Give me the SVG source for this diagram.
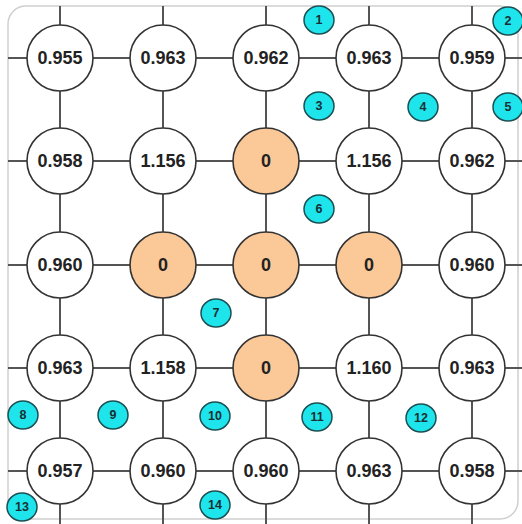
<svg xmlns="http://www.w3.org/2000/svg" width="522" height="524" viewBox="0 0 522 524">
  <defs>
    <style>
      .frame { fill: #ffffff; stroke: #cfcfcf; stroke-width: 1.5; }
      .edge { stroke: #555555; stroke-width: 2; fill: none; }
      .node circle { fill: #ffffff; stroke: #333333; stroke-width: 1.6; }
      .node.zero circle { fill: #fbc898; }
      .node text { font-family: "Liberation Sans", Arial, sans-serif; font-weight: bold; font-size: 18px; fill: #222222; text-anchor: middle; dominant-baseline: central; }
      .tag ellipse { fill: #1ee4ec; stroke: #1d4f52; stroke-width: 1.5; }
      .tag text { font-family: "Liberation Sans", Arial, sans-serif; font-weight: bold; font-size: 12.5px; fill: #1b2f33; text-anchor: middle; dominant-baseline: central; }
    </style>
  </defs>

  <rect class="frame" x="8" y="6" width="510" height="513" rx="18" ry="18"/>

  <!-- grid connectors -->
  <g id="connectors" class="edge">
    <line x1="8" y1="58" x2="522" y2="58"/>
    <line x1="8" y1="161" x2="522" y2="161"/>
    <line x1="8" y1="265" x2="522" y2="265"/>
    <line x1="8" y1="368" x2="522" y2="368"/>
    <line x1="8" y1="471" x2="522" y2="471"/>
    <line x1="60" y1="6" x2="60" y2="524"/>
    <line x1="163" y1="6" x2="163" y2="524"/>
    <line x1="266" y1="6" x2="266" y2="524"/>
    <line x1="369" y1="6" x2="369" y2="524"/>
    <line x1="472" y1="6" x2="472" y2="524"/>
  </g>

  <!-- row 1 -->
  <g id="n11" class="node"><circle cx="60" cy="58" r="33"/><text x="60" y="58">0.955</text></g>
  <g id="n12" class="node"><circle cx="163" cy="58" r="33"/><text x="163" y="58">0.963</text></g>
  <g id="n13" class="node"><circle cx="266" cy="58" r="33"/><text x="266" y="58">0.962</text></g>
  <g id="n14" class="node"><circle cx="369" cy="58" r="33"/><text x="369" y="58">0.963</text></g>
  <g id="n15" class="node"><circle cx="472" cy="58" r="33"/><text x="472" y="58">0.959</text></g>

  <!-- row 2 -->
  <g id="n21" class="node"><circle cx="60" cy="161" r="33"/><text x="60" y="161">0.958</text></g>
  <g id="n22" class="node"><circle cx="163" cy="161" r="33"/><text x="163" y="161">1.156</text></g>
  <g id="n23" class="node zero"><circle cx="266" cy="161" r="33"/><text x="266" y="161">0</text></g>
  <g id="n24" class="node"><circle cx="369" cy="161" r="33"/><text x="369" y="161">1.156</text></g>
  <g id="n25" class="node"><circle cx="472" cy="161" r="33"/><text x="472" y="161">0.962</text></g>

  <!-- row 3 -->
  <g id="n31" class="node"><circle cx="60" cy="265" r="33"/><text x="60" y="265">0.960</text></g>
  <g id="n32" class="node zero"><circle cx="163" cy="265" r="33"/><text x="163" y="265">0</text></g>
  <g id="n33" class="node zero"><circle cx="266" cy="265" r="33"/><text x="266" y="265">0</text></g>
  <g id="n34" class="node zero"><circle cx="369" cy="265" r="33"/><text x="369" y="265">0</text></g>
  <g id="n35" class="node"><circle cx="472" cy="265" r="33"/><text x="472" y="265">0.960</text></g>

  <!-- row 4 -->
  <g id="n41" class="node"><circle cx="60" cy="368" r="33"/><text x="60" y="368">0.963</text></g>
  <g id="n42" class="node"><circle cx="163" cy="368" r="33"/><text x="163" y="368">1.158</text></g>
  <g id="n43" class="node zero"><circle cx="266" cy="368" r="33"/><text x="266" y="368">0</text></g>
  <g id="n44" class="node"><circle cx="369" cy="368" r="33"/><text x="369" y="368">1.160</text></g>
  <g id="n45" class="node"><circle cx="472" cy="368" r="33"/><text x="472" y="368">0.963</text></g>

  <!-- row 5 -->
  <g id="n51" class="node"><circle cx="60" cy="471" r="33"/><text x="60" y="471">0.957</text></g>
  <g id="n52" class="node"><circle cx="163" cy="471" r="33"/><text x="163" y="471">0.960</text></g>
  <g id="n53" class="node"><circle cx="266" cy="471" r="33"/><text x="266" y="471">0.960</text></g>
  <g id="n54" class="node"><circle cx="369" cy="471" r="33"/><text x="369" y="471">0.963</text></g>
  <g id="n55" class="node"><circle cx="472" cy="471" r="33"/><text x="472" y="471">0.958</text></g>

  <!-- numbered cell tags -->
  <g id="t1" class="tag"><ellipse cx="319" cy="20" rx="15" ry="14"/><text x="319" y="20">1</text></g>
  <g id="t2" class="tag"><ellipse cx="508" cy="21" rx="15" ry="14"/><text x="508" y="21">2</text></g>
  <g id="t3" class="tag"><ellipse cx="319" cy="106" rx="15" ry="14"/><text x="319" y="106">3</text></g>
  <g id="t4" class="tag"><ellipse cx="423" cy="107" rx="15" ry="14"/><text x="423" y="107">4</text></g>
  <g id="t5" class="tag"><ellipse cx="508" cy="107" rx="15" ry="14"/><text x="508" y="107">5</text></g>
  <g id="t6" class="tag"><ellipse cx="319" cy="209" rx="15" ry="14"/><text x="319" y="209">6</text></g>
  <g id="t7" class="tag"><ellipse cx="216" cy="313" rx="15" ry="14"/><text x="216" y="313">7</text></g>
  <g id="t8" class="tag"><ellipse cx="23" cy="415" rx="15" ry="14"/><text x="23" y="415">8</text></g>
  <g id="t9" class="tag"><ellipse cx="113" cy="415" rx="15" ry="14"/><text x="113" y="415">9</text></g>
  <g id="t10" class="tag"><ellipse cx="215" cy="416" rx="15" ry="14"/><text x="215" y="416">10</text></g>
  <g id="t11" class="tag"><ellipse cx="317" cy="417" rx="15" ry="14"/><text x="317" y="417">11</text></g>
  <g id="t12" class="tag"><ellipse cx="421" cy="418" rx="15" ry="14"/><text x="421" y="418">12</text></g>
  <g id="t13" class="tag"><ellipse cx="22" cy="507" rx="15" ry="14"/><text x="22" y="507">13</text></g>
  <g id="t14" class="tag"><ellipse cx="215" cy="505" rx="15" ry="14"/><text x="215" y="505">14</text></g>
</svg>
